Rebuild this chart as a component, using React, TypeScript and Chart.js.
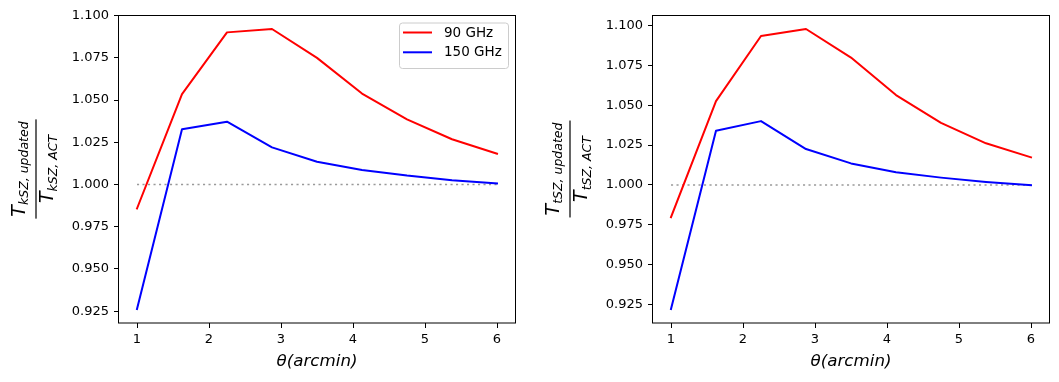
import React, { useEffect, useRef } from 'react';
import { Chart, registerables } from 'chart.js';

Chart.register(...registerables);

// ---- data ----
const thetaArcmin = [1, 1.625, 2.25, 2.875, 3.5, 4.125, 4.75, 5.375, 6];
const kszRatio90 = [0.9858, 1.0535, 1.0901, 1.0921, 1.075, 1.0539, 1.0386, 1.0268, 1.0183];
const kszRatio150 = [0.9263, 1.0328, 1.0372, 1.022, 1.0135, 1.0086, 1.0053, 1.0026, 1.0006];
const tszRatio90 = [0.9798, 1.0525, 1.0933, 1.0977, 1.0798, 1.0563, 1.0389, 1.0261, 1.0173];
const tszRatio150 = [0.9223, 1.034, 1.04, 1.0225, 1.0135, 1.0079, 1.0046, 1.0019, 0.9998];
const referenceX = [1, 6];
const referenceY = [1, 1];
const xTickValues = [1, 2, 3, 4, 5, 6];
const yTickValues = [0.925, 0.95, 0.975, 1.0, 1.025, 1.05, 1.075, 1.1];
const legendLabels = ['90 GHz', '150 GHz'];
const seriesColors = ['#ff0000', '#0000ff'];
const xAxisLabel = 'θ(arcmin)';

const FONT = "'DejaVu Sans', 'Liberation Sans', sans-serif";

type PanelProps = {
  left: number;
  width: number;
  padLeft: number;
  padRight: number;
  s90: number[];
  s150: number[];
  subNum: string;
  subDen: string;
  showLegend: boolean;
};

function drawFraction(ctx: CanvasRenderingContext2D, cx: number, cy: number, subNum: string, subDen: string) {
  ctx.save();
  ctx.translate(cx, cy);
  ctx.rotate(-Math.PI / 2);
  ctx.fillStyle = '#000';
  ctx.textBaseline = 'alphabetic';
  ctx.textAlign = 'left';
  const Tf = `italic 19px ${FONT}`;
  const Sf = `italic 12.5px ${FONT}`;
  ctx.font = Tf;
  const tw = ctx.measureText('T').width;
  ctx.font = Sf;
  const w1 = tw + ctx.measureText(subNum).width;
  const w2 = tw + ctx.measureText(subDen).width;
  const barW = Math.max(w1, w2) + 4;
  ctx.fillRect(-barW / 2, -0.6, barW, 1.2);
  // numerator
  let x = -w1 / 2;
  ctx.font = Tf;
  ctx.fillText('T', x, -11);
  ctx.font = Sf;
  ctx.fillText(subNum, x + tw, -8);
  // denominator
  x = -w2 / 2;
  ctx.font = Tf;
  ctx.fillText('T', x, 17);
  ctx.font = Sf;
  ctx.fillText(subDen, x + tw, 21);
  ctx.restore();
}

function Panel({ left, width, padLeft, padRight, s90, s150, subNum, subDen, showLegend }: PanelProps) {
  const ref = useRef<HTMLCanvasElement>(null);
  useEffect(() => {
    const canvas = ref.current;
    if (!canvas) return;
    const allY = [...s90, ...s150, ...referenceY];
    const lo = Math.min(...allY);
    const hi = Math.max(...allY);
    const ym = 0.05 * (hi - lo);
    const xlo = Math.min(...thetaArcmin);
    const xhi = Math.max(...thetaArcmin);
    const xm = 0.05 * (xhi - xlo);

    const overlay = {
      id: 'overlay',
      afterDraw(chart: any) {
        const ctx: CanvasRenderingContext2D = chart.ctx;
        const a = chart.chartArea;
        ctx.save();
        // frame
        ctx.strokeStyle = '#000';
        ctx.lineWidth = 1;
        ctx.strokeRect(Math.round(a.left) - 0.5, Math.round(a.top) + 0.5, Math.round(a.right - a.left) + 1, Math.round(a.bottom - a.top) - 0.5);
        // x label
        ctx.fillStyle = '#000';
        ctx.font = `italic 16.7px ${FONT}`;
        ctx.textAlign = 'center';
        ctx.textBaseline = 'alphabetic';
        ctx.fillText(xAxisLabel, (a.left + a.right) / 2, 366);
        // y label
        drawFraction(ctx, a.left - 83, (a.top + a.bottom) / 2, subNum, subDen);
        // legend
        if (showLegend) {
          const bw = 109;
          const bh = 45.5;
          const bx = a.right - 7 - bw;
          const by = a.top + 7.5;
          ctx.beginPath();
          ctx.roundRect(bx + 0.5, by + 0.5, bw, bh, 3);
          ctx.fillStyle = 'rgba(255,255,255,0.8)';
          ctx.fill();
          ctx.strokeStyle = '#cccccc';
          ctx.lineWidth = 1;
          ctx.stroke();
          ctx.font = `13.5px ${FONT}`;
          ctx.textAlign = 'left';
          ctx.textBaseline = 'middle';
          legendLabels.forEach((lab, i) => {
            const ly = by + 10 + i * 19.8;
            ctx.strokeStyle = seriesColors[i];
            ctx.lineWidth = 2;
            ctx.beginPath();
            ctx.moveTo(bx + 4, ly);
            ctx.lineTo(bx + 33, ly);
            ctx.stroke();
            ctx.fillStyle = '#000';
            ctx.fillText(lab, bx + 45, ly + 0.5);
          });
        }
        ctx.restore();
      },
    };

    const lineDs = (vals: number[], color: string) => ({
      data: thetaArcmin.map((x, i) => ({ x, y: vals[i] })),
      borderColor: color,
      backgroundColor: color,
      borderWidth: 2,
      pointRadius: 0,
      tension: 0,
      fill: false,
      borderJoinStyle: 'round' as const,
      borderCapStyle: 'square' as const,
    });

    const tickFont = { family: FONT, size: 13 };

    const chart = new Chart(canvas, {
      type: 'line',
      data: {
        datasets: [
          lineDs(s90, seriesColors[0]),
          lineDs(s150, seriesColors[1]),
          {
            data: referenceX.map((x, i) => ({ x, y: referenceY[i] })),
            borderColor: '#9a9a9a',
            borderWidth: 1.6,
            borderDash: [2.1, 3.4],
            pointRadius: 0,
            tension: 0,
            fill: false,
          },
        ],
      },
      options: {
        responsive: false,
        animation: false,
        events: [],
        layout: { padding: { left: padLeft, right: padRight, top: 15, bottom: 0 } },
        plugins: { legend: { display: false }, tooltip: { enabled: false }, title: { display: false } },
        scales: {
          x: {
            type: 'linear',
            min: xlo - xm,
            max: xhi + xm,
            afterBuildTicks: (s: any) => {
              s.ticks = xTickValues.map((v) => ({ value: v }));
            },
            afterFit: (s: any) => {
              s.height = 59;
            },
            grid: { drawOnChartArea: false, drawTicks: true, tickLength: 5, color: '#000', lineWidth: 1 },
            border: { display: false },
            ticks: {
              color: '#000',
              font: tickFont,
              padding: 4,
              maxRotation: 0,
              autoSkip: false,
              callback: (v: any) => String(v),
            },
          },
          y: {
            type: 'linear',
            min: lo - ym,
            max: hi + ym,
            afterBuildTicks: (s: any) => {
              s.ticks = yTickValues.map((v) => ({ value: v }));
            },
            afterFit: (s: any) => {
              s.width = 60;
            },
            grid: { drawOnChartArea: false, drawTicks: true, tickLength: 5, color: '#000', lineWidth: 1 },
            border: { display: false },
            ticks: {
              color: '#000',
              font: tickFont,
              padding: 5,
              autoSkip: false,
              callback: (v: any) => Number(v).toFixed(3),
            },
          },
        },
      } as any,
      plugins: [overlay],
    });
    return () => chart.destroy();
  }, []);
  return (
    <canvas
      ref={ref}
      width={width}
      height={382}
      style={{ position: 'absolute', left, top: 0, width, height: 382 }}
    />
  );
}

export default function App() {
  return (
    <div style={{ position: 'absolute', left: 0, top: 0, width: 1059, height: 382, background: '#fff' }}>
      <Panel
        left={0}
        width={530}
        padLeft={59}
        padRight={15}
        s90={kszRatio90}
        s150={kszRatio150}
        subNum="kSZ, updated"
        subDen="kSZ, ACT"
        showLegend={true}
      />
      <Panel
        left={530}
        width={529}
        padLeft={63}
        padRight={10}
        s90={tszRatio90}
        s150={tszRatio150}
        subNum="tSZ, updated"
        subDen="tSZ, ACT"
        showLegend={false}
      />
    </div>
  );
}
